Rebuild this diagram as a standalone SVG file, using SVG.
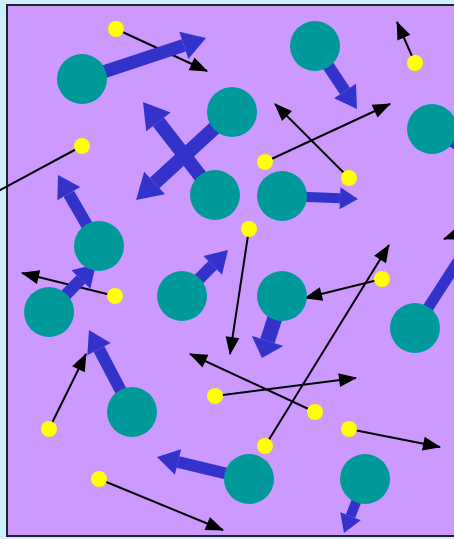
<svg xmlns="http://www.w3.org/2000/svg" width="454" height="539" viewBox="0 0 454 539">
<style>
.v{stroke:#3333cc;fill:none;stroke-linecap:butt;marker-end:url(#bh)}
.m{fill:#009999}
.t{stroke:#000;stroke-width:2;fill:none;marker-end:url(#kh)}
.d{fill:#ffff00}
</style>
<defs>
<marker id="bh" markerUnits="strokeWidth" viewBox="0 0 18 22" refX="0" refY="11" markerWidth="1.8" markerHeight="2.2" orient="auto" overflow="visible">
<path d="M0,0 L18,11 L0,22 z" fill="#3333cc"/>
</marker>
<marker id="bh2" markerUnits="strokeWidth" viewBox="0 0 12 22" refX="0" refY="11" markerWidth="1.2" markerHeight="2.2" orient="auto" overflow="visible">
<path d="M0,0 L12,11 L0,22 z" fill="#3333cc"/>
</marker>
<marker id="kh" markerUnits="userSpaceOnUse" viewBox="0 0 18 14" refX="17" refY="7" markerWidth="18" markerHeight="14" orient="auto" overflow="visible">
<path d="M0,0 L18,7 L0,14 z" fill="#000"/>
</marker>
</defs>
<rect x="0" y="0" width="454" height="539" fill="#ccf0ff"/>
<rect x="7" y="5" width="500" height="531" fill="#cc99ff" stroke="#222" stroke-width="2"/>
<g id="tracks">
<line class="t" x1="116" y1="29" x2="207" y2="71"/>
<line class="t" x1="82" y1="146" x2="-20" y2="201"/>
<line class="t" x1="415" y1="63" x2="397" y2="22"/>
<line class="t" x1="265" y1="162" x2="390" y2="104"/>
<line class="t" x1="349" y1="178" x2="275" y2="104"/>
<line class="t" x1="249" y1="229" x2="230" y2="354"/>
<line class="t" x1="115" y1="296" x2="22" y2="273"/>
<line class="t" x1="382" y1="279" x2="305" y2="298"/>
<line class="t" x1="49" y1="429" x2="86" y2="354"/>
<line class="t" x1="215" y1="396" x2="356" y2="378"/>
<line class="t" x1="315" y1="412" x2="190" y2="354"/>
<line class="t" x1="349" y1="429" x2="440" y2="447"/>
<line class="t" x1="265" y1="446" x2="389" y2="245"/>
<line class="t" x1="99" y1="479" x2="223" y2="530"/>
<line class="t" x1="500" y1="218" x2="444" y2="239"/>
</g>
<g id="velocities">
<line class="v" x1="82" y1="79" x2="183.8" y2="45.3" stroke-width="13"/>
<line class="v" x1="232" y1="112" x2="154.6" y2="183" stroke-width="14"/>
<line class="v" x1="215" y1="195" x2="158.4" y2="121.9" stroke-width="14"/>
<line class="v" x1="315" y1="46" x2="345" y2="91" stroke-width="12"/>
<line x1="432" y1="129" x2="480" y2="159" stroke="#3333cc" stroke-width="11"/>
<line class="v" x1="282" y1="196" x2="340" y2="198.3" stroke-width="10"/>
<line class="v" x1="99" y1="246" x2="68.8" y2="193.7" stroke-width="12"/>
<line class="v" x1="49" y1="312" x2="80.9" y2="279.4" stroke-width="12"/>
<line class="v" x1="182" y1="296" x2="212.7" y2="265.3" stroke-width="12"/>
<line x1="282" y1="296" x2="267.5" y2="340.9" stroke="#3333cc" stroke-width="15" marker-end="url(#bh2)"/>
<line x1="415" y1="328" x2="470" y2="243" stroke="#3333cc" stroke-width="11"/>
<line class="v" x1="132" y1="412" x2="99" y2="349.1" stroke-width="12"/>
<line class="v" x1="249" y1="479" x2="178" y2="462" stroke-width="12"/>
<line class="v" x1="365" y1="479" x2="350.5" y2="516.2" stroke-width="10"/>
</g>
<g id="molecules">
<circle id="m1" class="m" cx="82" cy="79" r="25"/>
<circle id="m2" class="m" cx="232" cy="112" r="25"/>
<circle id="m3" class="m" cx="315" cy="46" r="25"/>
<circle id="m4" class="m" cx="432" cy="129" r="25"/>
<circle id="m5" class="m" cx="215" cy="195" r="25"/>
<circle id="m6" class="m" cx="282" cy="196" r="25"/>
<circle id="m7" class="m" cx="99" cy="246" r="25"/>
<circle id="m8" class="m" cx="49" cy="312" r="25"/>
<circle id="m9" class="m" cx="182" cy="296" r="25"/>
<circle id="m10" class="m" cx="282" cy="296" r="25"/>
<circle id="m11" class="m" cx="415" cy="328" r="25"/>
<circle id="m12" class="m" cx="132" cy="412" r="25"/>
<circle id="m13" class="m" cx="249" cy="479" r="25"/>
<circle id="m14" class="m" cx="365" cy="479" r="25"/>
</g>
<g id="particles">
<circle class="d" cx="116" cy="29" r="8"/>
<circle class="d" cx="82" cy="146" r="8"/>
<circle class="d" cx="415" cy="63" r="8"/>
<circle class="d" cx="265" cy="162" r="8"/>
<circle class="d" cx="349" cy="178" r="8"/>
<circle class="d" cx="249" cy="229" r="8"/>
<circle class="d" cx="115" cy="296" r="8"/>
<circle class="d" cx="382" cy="279" r="8"/>
<circle class="d" cx="49" cy="429" r="8"/>
<circle class="d" cx="215" cy="396" r="8"/>
<circle class="d" cx="315" cy="412" r="8"/>
<circle class="d" cx="349" cy="429" r="8"/>
<circle class="d" cx="265" cy="446" r="8"/>
<circle class="d" cx="99" cy="479" r="8"/>
</g>
</svg>
